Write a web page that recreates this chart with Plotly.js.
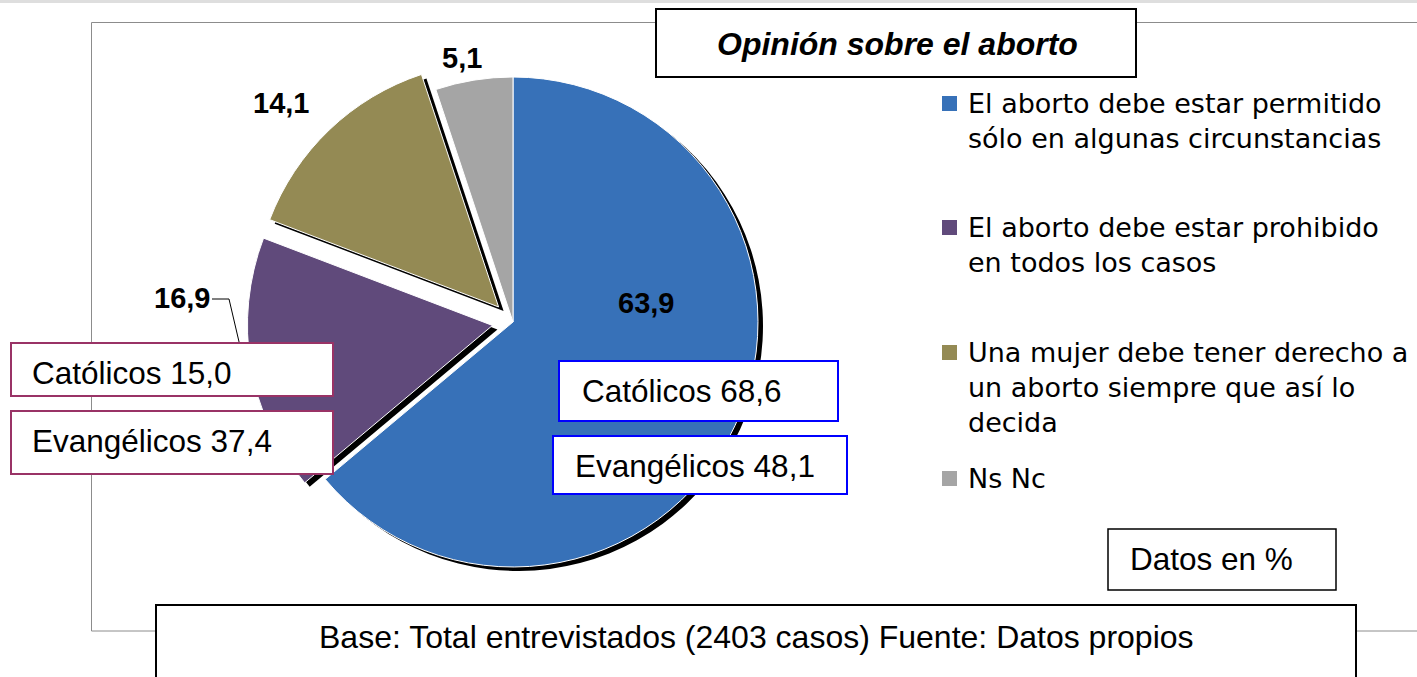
<!DOCTYPE html>
<html>
<head>
<meta charset="utf-8">
<script src="https://cdn.plot.ly/plotly-3.0.1.min.js"></script>
<style>
    html, body { margin: 0; padding: 0; background: #fff; }
    #opinionPieChart { width: 1417px; height: 677px; }
</style>
</head>
<body>
<div id="opinionPieChart"></div>
<script>
// Opinión sobre el aborto (datos en %)
const opinionLabels = [
    'El aborto debe estar permitido<br>sólo en algunas circunstancias',
    'El aborto debe estar prohibido<br>en todos los casos',
    'Una mujer debe tener derecho a<br>un aborto siempre que así lo<br>decida',
    'Ns Nc'
];
const opinionValues = [63.9, 16.9, 14.1, 5.1];
const sliceColors = ['#3771B8', '#604A7B', '#948A54', '#A5A5A5'];
const slicePull = [0, 0.085, 0.085, 0];

// Apertura por religión, para las dos primeras opiniones
const religionNames = ['Católicos', 'Evangélicos'];
const permitidoByReligion = [68.6, 48.1];
const prohibidoByReligion = [15.0, 37.4];

const titleText = 'Opinión sobre el aborto';
const unitsText = 'Datos en %';
const sourceText = 'Base: Total entrevistados (2403 casos) Fuente: Datos propios';

const W = 1417;
const H = 677;
const textFont = 'Liberation Sans, Arial, sans-serif';

// pixels -> paper
function px(x) { return x / W; }
function py(y) { return 1 - y / H; }
function fmt(v) { return v.toFixed(1).replace('.', ','); }

function pieDomain(cx, cy, r, maxPull) {
    const half = r * (1 + maxPull);
    return {
        x: [px(cx - half), px(cx + half)],
        y: [py(cy + half), py(cy - half)]
    };
}

function makeOpinionChart() {
    const chart = document.getElementById('opinionPieChart');
    const maxPull = Math.max(...slicePull);
    const radius = 245;

    const shadowPie = {
        type: 'pie',
        labels: opinionLabels,
        values: opinionValues,
        sort: false,
        direction: 'clockwise',
        rotation: 0,
        pull: slicePull,
        marker: { colors: opinionLabels.map(() => '#000000'), line: { width: 0 } },
        textinfo: 'none',
        hoverinfo: 'skip',
        showlegend: false,
        domain: pieDomain(518, 326, radius, maxPull)
    };

    const opinionPie = {
        type: 'pie',
        labels: opinionLabels,
        values: opinionValues,
        sort: false,
        direction: 'clockwise',
        rotation: 0,
        pull: slicePull,
        marker: { colors: sliceColors, line: { color: '#ffffff', width: 1 } },
        textinfo: 'none',
        hoverinfo: 'label+value',
        showlegend: false,
        domain: pieDomain(513, 322, radius, maxPull)
    };

    const shapes = [];
    const annotations = [];

    function box(x0, y0, x1, y1, color, width) {
        shapes.push({
            type: 'rect', xref: 'paper', yref: 'paper',
            x0: px(x0), x1: px(x1), y0: py(y1), y1: py(y0),
            fillcolor: '#ffffff', line: { color: color, width: width }
        });
    }

    function label(text, x, y, size, opts) {
        annotations.push(Object.assign({
            text: text, xref: 'paper', yref: 'paper',
            x: px(x), y: py(y), xanchor: 'left', yanchor: 'middle',
            showarrow: false, align: 'left',
            font: { family: textFont, size: size, color: '#000000' }
        }, opts || {}));
    }

    // banda gris superior y marco del gráfico
    shapes.push({ type: 'rect', xref: 'paper', yref: 'paper', x0: 0, x1: 1, y0: py(3), y1: 1,
        fillcolor: '#dedede', line: { width: 0 } });
    shapes.push({ type: 'rect', xref: 'paper', yref: 'paper', x0: px(91.5), x1: px(1440), y0: py(631), y1: py(22.5),
        fillcolor: 'rgba(0,0,0,0)', line: { color: '#8c8c8c', width: 1 } });

    // título
    box(656, 9, 1136, 77, '#000000', 2);
    label(titleText, 897, 44, 32, {
        xanchor: 'center',
        font: { family: textFont, size: 32, color: '#000000', weight: 'bold', style: 'italic' }
    });

    // valores de cada porción
    const valuePositions = [[646, 303], [182, 298], [281, 103], [462, 58]];
    opinionValues.forEach((v, i) => {
        label(fmt(v), valuePositions[i][0], valuePositions[i][1], 29, {
            xanchor: 'center',
            font: { family: textFont, size: 29, color: '#000000', weight: 'bold' }
        });
    });
    shapes.push({ type: 'path', xref: 'paper', yref: 'paper',
        path: 'M ' + px(212) + ' ' + py(299) + ' L ' + px(229) + ' ' + py(299) + ' L ' + px(240) + ' ' + py(346),
        line: { color: '#000000', width: 1 } });

    // recuadros por religión
    box(11, 343, 333, 396, '#993366', 2);
    box(11, 411, 333, 474, '#993366', 2);
    label(religionNames[0] + ' ' + fmt(prohibidoByReligion[0]), 30, 373, 31.5);
    label(religionNames[1] + ' ' + fmt(prohibidoByReligion[1]), 30, 441, 31.5);

    box(559, 361, 838, 421, '#0000ff', 2);
    box(553, 436, 847, 494, '#0000ff', 2);
    label(religionNames[0] + ' ' + fmt(permitidoByReligion[0]), 580, 391, 31.5);
    label(religionNames[1] + ' ' + fmt(permitidoByReligion[1]), 573, 466, 31.5);

    // leyenda
    const legendFirstLine = [103, 227, 352, 478];
    opinionLabels.forEach((text, i) => {
        const lines = text.split('<br>').length;
        const c = legendFirstLine[i];
        shapes.push({ type: 'rect', xref: 'paper', yref: 'paper',
            x0: px(942), x1: px(957), y0: py(c + 8), y1: py(c - 7),
            fillcolor: sliceColors[i], line: { width: 0 } });
        label(text, 966, c + (lines - 1) * 35.1 / 2, 27, {
            font: { family: 'DejaVu Sans, sans-serif', size: 27, color: '#000000' }
        });
    });

    // unidades y fuente
    box(1108, 529, 1336, 590, '#000000', 1.5);
    label(unitsText, 1128, 559, 31.5);
    box(156, 605, 1356, 700, '#000000', 2);
    label(sourceText, 756, 637, 32, { xanchor: 'center' });

    const layout = {
        width: W,
        height: H,
        margin: { l: 0, r: 0, t: 0, b: 0 },
        paper_bgcolor: '#ffffff',
        showlegend: false,
        shapes: shapes,
        annotations: annotations
    };

    Plotly.newPlot(chart, [shadowPie, opinionPie], layout, { staticPlot: true });
}

makeOpinionChart();
</script>
</body>
</html>
